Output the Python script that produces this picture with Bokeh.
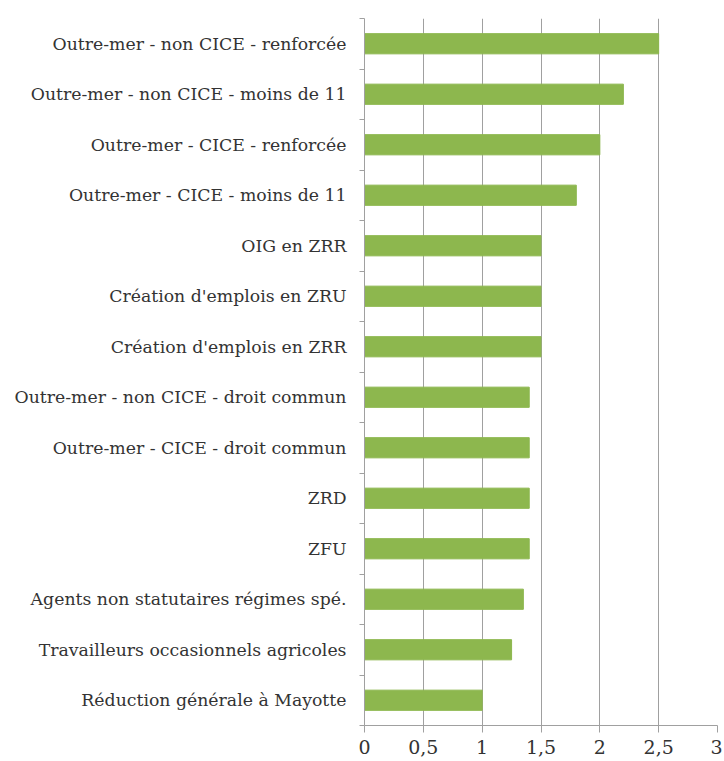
from bokeh.plotting import figure
from bokeh.models import FixedTicker, Range1d
from bokeh.embed import file_html
from bokeh.resources import INLINE

categories = [
    "Outre-mer - non CICE - renforcée",
    "Outre-mer - non CICE - moins de 11",
    "Outre-mer - CICE - renforcée",
    "Outre-mer - CICE - moins de 11",
    "OIG en ZRR",
    "Création d'emplois en ZRU",
    "Création d'emplois en ZRR",
    "Outre-mer - non CICE - droit commun",
    "Outre-mer - CICE - droit commun",
    "ZRD",
    "ZFU",
    "Agents non statutaires régimes spé.",
    "Travailleurs occasionnels agricoles",
    "Réduction générale à Mayotte",
]
values = [2.5, 2.2, 2.0, 1.8, 1.5, 1.5, 1.5, 1.4, 1.4, 1.4, 1.4, 1.35, 1.25, 1.0]
x_ticks = [0, 0.5, 1, 1.5, 2, 2.5, 3]
x_tick_labels = ["0", "0,5", "1", "1,5", "2", "2,5", "3"]

n = len(categories)
ypos = [n - 1 - i for i in range(n)]

FONT = "DejaVu Serif"
TXT = "#333333"
GRID = "#a0a0a0"

p = figure(width=722, height=761, output_backend="svg", toolbar_location=None,
           x_range=Range1d(0, 3), y_range=Range1d(-0.5, n - 0.5),
           min_border_left=364, min_border_right=5, min_border_top=18,
           min_border_bottom=36)
p.outline_line_color = None

p.hbar(y=ypos, right=values, left=0, height=0.4, color="#8db74e")

# x axis
p.xaxis.ticker = FixedTicker(ticks=x_ticks, minor_ticks=[])
p.xaxis.major_label_overrides = {t: l for t, l in zip(x_ticks, x_tick_labels)}
p.xaxis.axis_line_color = GRID
p.xaxis.major_tick_line_color = GRID
p.xaxis.major_tick_out = 7
p.xaxis.major_tick_in = 0
p.xaxis.minor_tick_out = 0
p.xaxis.major_label_text_font = FONT
p.xaxis.major_label_text_font_size = "19px"
p.xaxis.major_label_text_color = TXT
p.xaxis.major_label_standoff = 7

# y axis
p.yaxis.ticker = FixedTicker(ticks=ypos, minor_ticks=[k - 0.5 for k in range(n + 1)])
p.yaxis.major_label_overrides = {y: c for y, c in zip(ypos, categories)}
p.yaxis.axis_line_color = GRID
p.yaxis.major_tick_out = 0
p.yaxis.major_tick_in = 0
p.yaxis.minor_tick_line_color = GRID
p.yaxis.minor_tick_out = 5
p.yaxis.minor_tick_in = 0
p.yaxis.major_label_text_font = FONT
p.yaxis.major_label_text_font_size = "17.3px"
p.yaxis.major_label_text_color = TXT
p.yaxis.major_label_standoff = 13

p.xgrid.ticker = FixedTicker(ticks=x_ticks)
p.xgrid.grid_line_color = GRID
p.ygrid.grid_line_color = None

open("out.html", "w").write(file_html(p, INLINE))
